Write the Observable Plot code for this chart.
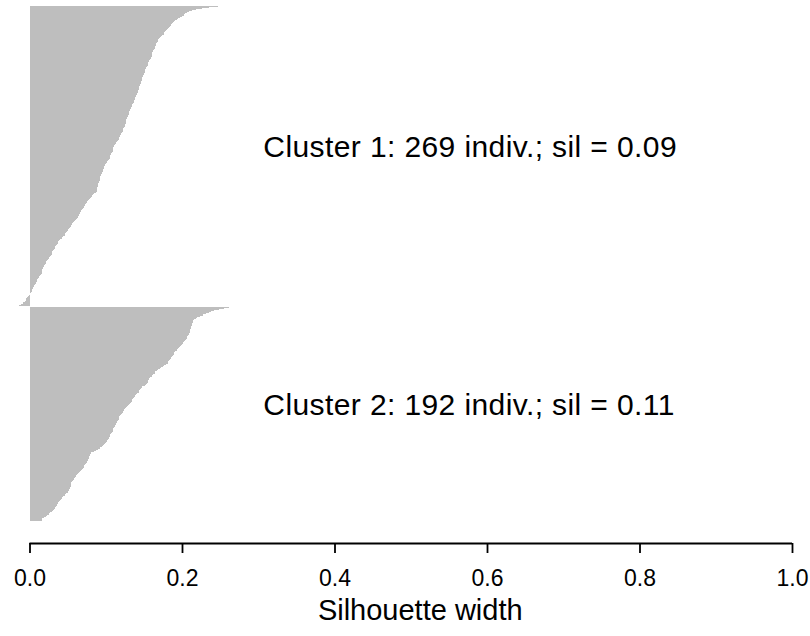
<!DOCTYPE html>
<html>
<head>
<meta charset="utf-8">
<script src="https://cdn.jsdelivr.net/npm/d3@7"></script>
<script src="https://cdn.jsdelivr.net/npm/@observablehq/plot@0.6"></script>
<style>
  html, body { margin: 0; padding: 0; background: #fff; }
  #chart svg { display: block; }
</style>
</head>
<body>
<div id="chart"></div>
<script>
// Silhouette widths of a two-cluster partition, each cluster sorted decreasing.
const clusterNames = ["Cluster 1", "Cluster 2"];
const clusterSizes = [269, 192];
const clusterSil = [0.09, 0.11];

const silCluster1 = [
  0.247, 0.236, 0.226, 0.219, 0.213, 0.209, 0.206, 0.204, 0.202, 0.200,
  0.198, 0.195, 0.193, 0.191, 0.189, 0.188, 0.187, 0.185, 0.184, 0.183,
  0.182, 0.180, 0.179, 0.178, 0.177, 0.176, 0.174, 0.173, 0.171, 0.170,
  0.169, 0.169, 0.168, 0.167, 0.166, 0.166, 0.165, 0.164, 0.164, 0.163,
  0.162, 0.162, 0.161, 0.161, 0.160, 0.160, 0.159, 0.159, 0.158, 0.157,
  0.157, 0.156, 0.155, 0.155, 0.154, 0.153, 0.153, 0.152, 0.151, 0.151,
  0.150, 0.150, 0.149, 0.149, 0.148, 0.148, 0.147, 0.147, 0.146, 0.146,
  0.145, 0.145, 0.144, 0.144, 0.143, 0.143, 0.142, 0.142, 0.141, 0.141,
  0.140, 0.140, 0.139, 0.139, 0.138, 0.137, 0.137, 0.136, 0.135, 0.134,
  0.134, 0.133, 0.133, 0.132, 0.131, 0.131, 0.130, 0.130, 0.129, 0.129,
  0.128, 0.128, 0.127, 0.127, 0.126, 0.126, 0.125, 0.125, 0.125, 0.124,
  0.123, 0.123, 0.122, 0.121, 0.120, 0.120, 0.119, 0.119, 0.118, 0.117,
  0.116, 0.115, 0.114, 0.113, 0.112, 0.111, 0.111, 0.110, 0.110, 0.109,
  0.109, 0.108, 0.107, 0.107, 0.106, 0.106, 0.105, 0.104, 0.103, 0.102,
  0.101, 0.100, 0.099, 0.099, 0.098, 0.098, 0.097, 0.097, 0.096, 0.095,
  0.095, 0.094, 0.094, 0.093, 0.093, 0.092, 0.092, 0.091, 0.091, 0.090,
  0.090, 0.090, 0.089, 0.089, 0.089, 0.088, 0.088, 0.087, 0.085, 0.083,
  0.082, 0.080, 0.079, 0.078, 0.077, 0.076, 0.075, 0.074, 0.073, 0.072,
  0.071, 0.070, 0.069, 0.068, 0.067, 0.066, 0.066, 0.065, 0.064, 0.063,
  0.062, 0.061, 0.060, 0.058, 0.057, 0.056, 0.055, 0.054, 0.053, 0.052,
  0.051, 0.050, 0.049, 0.048, 0.047, 0.046, 0.044, 0.043, 0.042, 0.040,
  0.039, 0.038, 0.037, 0.036, 0.035, 0.034, 0.034, 0.033, 0.032, 0.031,
  0.030, 0.030, 0.029, 0.028, 0.027, 0.026, 0.025, 0.024, 0.023, 0.022,
  0.021, 0.020, 0.019, 0.019, 0.018, 0.018, 0.017, 0.017, 0.016, 0.016,
  0.015, 0.014, 0.013, 0.012, 0.011, 0.010, 0.010, 0.009, 0.008, 0.007,
  0.006, 0.006, 0.005, 0.004, 0.003, 0.003, 0.002, 0.001, 0.000, -0.001,
  -0.002, -0.003, -0.004, -0.005, -0.006, -0.008, -0.009, -0.011, -0.014
];

const silCluster2 = [
  0.261, 0.255, 0.248, 0.242, 0.238, 0.235, 0.232, 0.228, 0.224, 0.220,
  0.218, 0.216, 0.215, 0.214, 0.214, 0.213, 0.213, 0.212, 0.212, 0.212,
  0.211, 0.211, 0.210, 0.210, 0.209, 0.208, 0.207, 0.207, 0.206, 0.205,
  0.204, 0.203, 0.201, 0.200, 0.199, 0.197, 0.196, 0.195, 0.194, 0.193,
  0.191, 0.190, 0.189, 0.188, 0.187, 0.186, 0.185, 0.184, 0.183, 0.182,
  0.181, 0.179, 0.177, 0.175, 0.173, 0.171, 0.169, 0.167, 0.165, 0.164,
  0.162, 0.161, 0.160, 0.158, 0.157, 0.157, 0.156, 0.155, 0.154, 0.153,
  0.151, 0.148, 0.147, 0.146, 0.145, 0.144, 0.143, 0.141, 0.140, 0.139,
  0.138, 0.137, 0.136, 0.135, 0.134, 0.133, 0.132, 0.131, 0.129, 0.128,
  0.126, 0.125, 0.124, 0.123, 0.122, 0.121, 0.120, 0.119, 0.118, 0.118,
  0.117, 0.116, 0.115, 0.115, 0.114, 0.113, 0.112, 0.112, 0.111, 0.110,
  0.109, 0.109, 0.108, 0.107, 0.106, 0.105, 0.105, 0.104, 0.103, 0.102,
  0.101, 0.100, 0.099, 0.098, 0.097, 0.095, 0.093, 0.090, 0.087, 0.084,
  0.081, 0.080, 0.079, 0.079, 0.078, 0.078, 0.077, 0.077, 0.076, 0.075,
  0.074, 0.073, 0.072, 0.071, 0.070, 0.069, 0.068, 0.066, 0.065, 0.063,
  0.062, 0.061, 0.060, 0.059, 0.058, 0.057, 0.056, 0.055, 0.055, 0.054,
  0.054, 0.053, 0.053, 0.052, 0.052, 0.051, 0.050, 0.048, 0.046, 0.044,
  0.043, 0.042, 0.041, 0.040, 0.039, 0.038, 0.037, 0.036, 0.035, 0.034,
  0.033, 0.032, 0.031, 0.029, 0.027, 0.025, 0.023, 0.021, 0.019, 0.017,
  0.016, 0.016
];

const xTicks = [0, 0.2, 0.4, 0.6, 0.8, 1.0];
const axisTitle = "Silhouette width";

// Stack the bars top-down, one unit per observation, half a unit between clusters.
const clusterGap = 0.5;
const bars = [];
const clusterMid = [];
let pos = 0;
[silCluster1, silCluster2].forEach((vals, k) => {
  if (k > 0) pos += clusterGap;
  const start = pos;
  vals.forEach((v) => {
    bars.push({cluster: clusterNames[k], s: v, y1: pos, y2: pos + 1});
    pos += 1;
  });
  clusterMid.push((start + pos) / 2);
});
const yEnd = 481;          // bottom of the plotting region, where the axis sits
const labelX = 0.306;      // left edge of the per-cluster summaries

const chart = Plot.plot({
  width: 810,
  height: 636,
  marginTop: 5.5,
  marginBottom: 93,
  marginLeft: 29.5,
  marginRight: 18,
  style: {fontFamily: "'Liberation Sans', Arial, Helvetica, sans-serif", background: "#fff", color: "#000"},
  x: {domain: [0, 1]},
  y: {domain: [0, yEnd], reverse: true, axis: null},
  marks: [
    Plot.rectX(bars, {x1: 0, x2: "s", y1: "y1", y2: "y2", fill: "#bebebe", shapeRendering: "crispEdges"}),
    Plot.ruleY([yEnd], {x1: 0, x2: 1, stroke: "#000", strokeWidth: 1.8}),
    Plot.axisX({
      ticks: xTicks,
      tickFormat: d3.format(".1f"),
      tickSize: 10,
      tickPadding: 16,
      fontSize: 23,
      strokeWidth: 1.8,
      label: null
    }),
    Plot.text([axisTitle], {frameAnchor: "bottom", dy: 76, dx: 9, fontSize: 29, fill: "#000"}),
    Plot.text(clusterNames, {
      x: () => labelX,
      y: (d, i) => clusterMid[i],
      text: (d, i) => `${d}: ${clusterSizes[i]} indiv.; sil = ${clusterSil[i].toFixed(2)}`,
      textAnchor: "start",
      fontSize: 30,
      dy: -9,
      fill: "#000"
    })
  ]
});
// the summaries are set slightly loose
d3.select(chart).selectAll("text").filter(function () {
  return /Cluster/.test(this.textContent);
}).attr("letter-spacing", "0.4px");
document.getElementById("chart").appendChild(chart);
</script>
</body>
</html>
